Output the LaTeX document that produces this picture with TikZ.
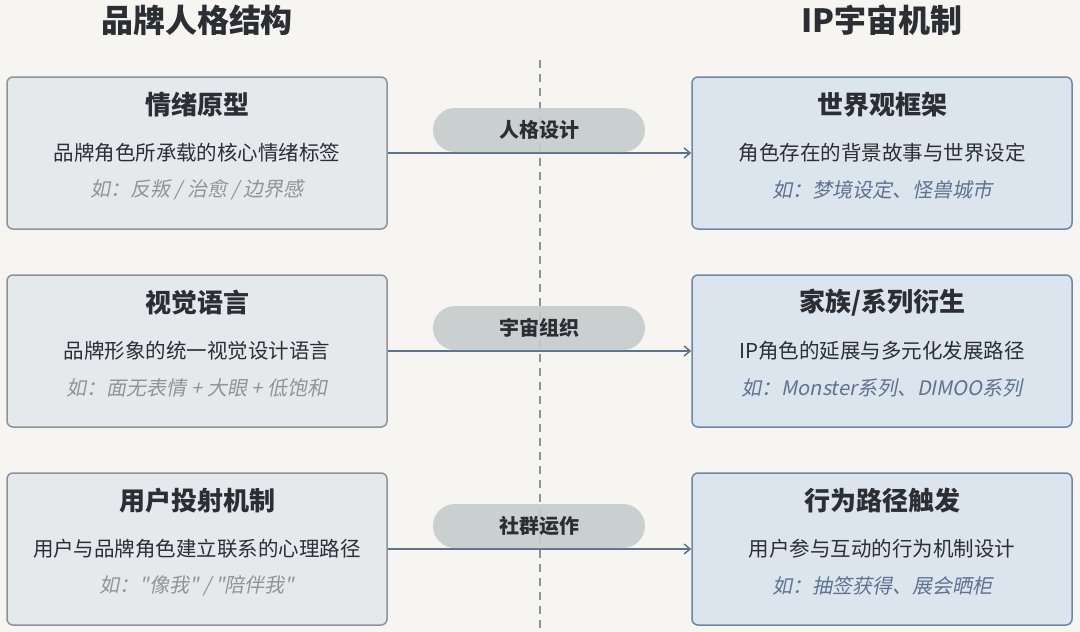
\documentclass[tikz,border=0pt]{standalone}
\usepackage{fontspec}
\setmainfont{Noto Sans CJK SC}
\newfontfamily\cjkit[FakeSlant=0.2]{Noto Sans CJK SC}
\usetikzlibrary{arrows.meta}
\definecolor{bg}{HTML}{F7F5F2}
\definecolor{lfill}{HTML}{E6E9EC}
\definecolor{ldraw}{HTML}{8C939B}
\definecolor{rfill}{HTML}{DCE4EE}
\definecolor{rdraw}{HTML}{6F86A6}
\definecolor{ink}{HTML}{2B2F33}
\definecolor{arr}{HTML}{5E7290}
\definecolor{pill}{HTML}{C6CBCD}
\tikzset{
 lbox/.style={draw=ldraw,fill=lfill,line width=1.5pt,rounded corners=6pt,minimum width=380pt,minimum height=152pt},
 rbox/.style={draw=rdraw,fill=rfill,line width=1.5pt,rounded corners=6pt,minimum width=380pt,minimum height=152pt},
 ttl/.style={font=\fontsize{26}{30}\selectfont\bfseries,text=ink},
 bdy/.style={font=\fontsize{20.5}{24}\selectfont,text=ink},
 exl/.style={font=\fontsize{20}{24}\selectfont\cjkit,text=gray!85},
 exr/.style={font=\fontsize{20}{24}\selectfont\cjkit,text=arr},
 pillst/.style={fill=pill,fill opacity=0.9,text opacity=1,rounded corners=22pt,minimum width=212pt,minimum height=44pt,font=\fontsize{20}{24}\selectfont\bfseries,text=ink},
 link/.style={draw=arr,line width=1.5pt,-{Straight Barb[length=6pt,width=10pt]}},
 head/.style={font=\fontsize{32}{36}\selectfont\bfseries,text=ink}
}
\begin{document}
\begin{tikzpicture}[x=1pt,y=-1pt]
\fill[bg] (0,0) rectangle (1080,632);
\useasboundingbox (0,0) rectangle (1080,632);
\node[head] (hl) at (197,20) {品牌人格结构};
\node[head] (hr) at (882,20) {IP宇宙机制};
\coordinate (dt) at (540,60); \coordinate (db) at (540,632);
\draw[ldraw,line width=1.5pt,dash pattern=on 8pt off 6pt] (dt) -- (db);
\foreach \i/\y/\t/\b/\e/\rt/\rb/\re/\p in {
 1/153/情绪原型/品牌角色所承载的核心情绪标签/{如：反叛 / 治愈 / 边界感}/世界观框架/角色存在的背景故事与世界设定/{如：梦境设定、怪兽城市}/人格设计,
 2/351/视觉语言/品牌形象的统一视觉设计语言/{如：面无表情 + 大眼 + 低饱和}/{家族/系列衍生}/IP角色的延展与多元化发展路径/{如：Monster系列、DIMOO系列}/宇宙组织,
 3/549/用户投射机制/用户与品牌角色建立联系的心理路径/{如："像我" / "陪伴我"}/行为路径触发/用户参与互动的行为机制设计/{如：抽签获得、展会晒柜}/社群运作}{
 \node[lbox] (l\i) at (197,\y) {};
 \node[rbox] (r\i) at (882,\y) {};
 \node[ttl] (lt\i) at (197,\y-48) {\t};
 \node[bdy] (lb\i) at (197,\y) {\b};
 \node[exl] (le\i) at (197,\y+37) {\e};
 \node[ttl] (rt\i) at (882,\y-48) {\rt};
 \node[bdy] (rb\i) at (882,\y) {\rb};
 \node[exr] (re\i) at (882,\y+37) {\re};
 \draw[link] (l\i.east) -- (r\i.west);
 \node[pillst] (p\i) at (539,\y-23) {\p};
}
\end{tikzpicture}
\end{document}
